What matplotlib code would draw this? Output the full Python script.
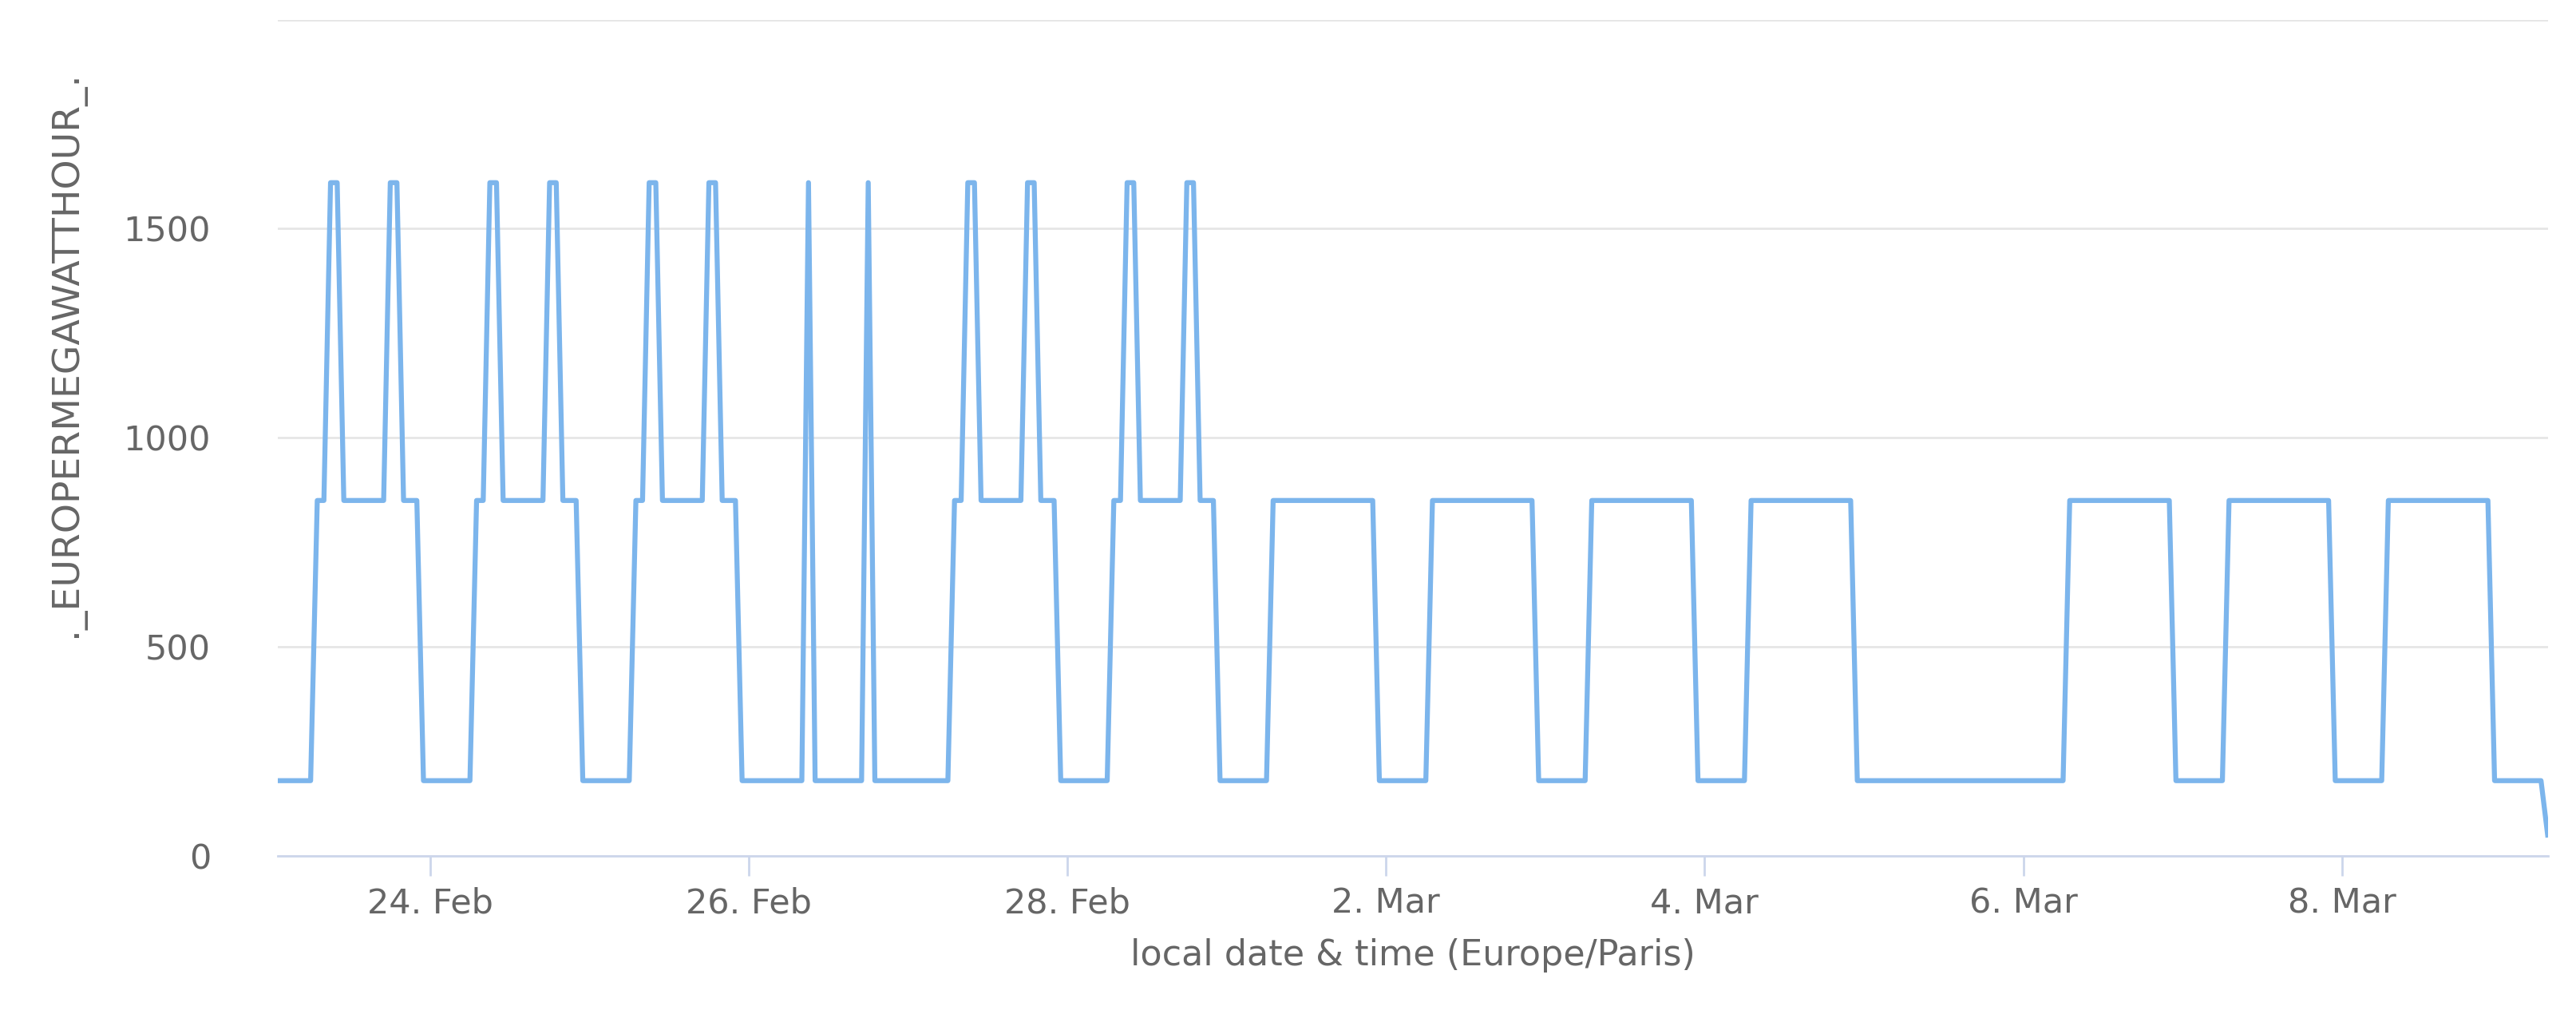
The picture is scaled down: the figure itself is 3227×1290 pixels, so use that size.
#!/usr/bin/env python3
import numpy as np
import pandas as pd
import matplotlib
matplotlib.use('Agg')
import matplotlib.pyplot as plt
import matplotlib.dates as mdates

# hourly daily profiles (MWh), hours 0..23
peak_day  = [180]*7 + [850, 850, 1610, 1610] + [850]*7 + [1610, 1610, 850, 850, 850, 180]
spike_day = [180]*9 + [1610] + [180]*8 + [1610] + [180]*5
flat_day  = [180]*7 + [850]*16 + [180]
low_day   = [180]*24
last_day  = [180]*7 + [50]

day_types = ['peak', 'peak', 'peak', 'spike', 'peak', 'peak',      # 23-28 Feb
             'flat', 'flat', 'flat', 'flat', 'low', 'flat', 'flat',  # 1-7 Mar
             'flat', 'last']                                        # 8-9 Mar
profiles = {'peak': peak_day, 'spike': spike_day, 'flat': flat_day,
            'low': low_day, 'last': last_day}

values = []
for d in day_types:
    values += profiles[d]
values = values[1:]  # series starts at 23 Feb 01:00
times = pd.date_range('2021-02-23 01:00', periods=len(values), freq='h')

fig = plt.figure(figsize=(32.27, 12.90), dpi=100)
ax = fig.add_axes([0.1077, 0.169, 0.8813, 0.812])

ax.plot(times, values, color='#7cb5ec', lw=4.5, solid_joinstyle='round')

ax.set_ylim(0, 2000)
ax.set_yticks([0, 500, 1000, 1500, 2000])
ax.set_yticklabels(['0', '500', '1000', '1500', ''])
ax.set_xlim(times[0], times[-1])

ticks = pd.to_datetime(['2021-02-24', '2021-02-26', '2021-02-28', '2021-03-02',
                        '2021-03-04', '2021-03-06', '2021-03-08'])
ax.set_xticks(ticks)
ax.set_xticklabels(['24. Feb', '26. Feb', '28. Feb', '2. Mar', '4. Mar', '6. Mar', '8. Mar'])

ax.grid(axis='y', color='#e6e6e6', lw=2)
ax.set_axisbelow(True)
for s in ['top', 'right', 'left']:
    ax.spines[s].set_visible(False)
ax.spines['bottom'].set_color('#ccd6eb')
ax.spines['bottom'].set_linewidth(2)

ax.tick_params(axis='y', length=0, labelsize=31, labelcolor='#666666', pad=60)
ax.tick_params(axis='x', length=18, width=2, color='#ccd6eb',
               labelsize=31, labelcolor='#666666', pad=10)

ax.set_xlabel('local date & time (Europe/Paris)', fontsize=32, color='#666666', labelpad=16)
ax.set_ylabel('._EUROPERMEGAWATTHOUR_.', fontsize=34, color='#666666', labelpad=40)
ax.yaxis.set_label_coords(-0.085, 0.6)

fig.savefig('out.png', dpi=100, facecolor='w')
plt.close()
